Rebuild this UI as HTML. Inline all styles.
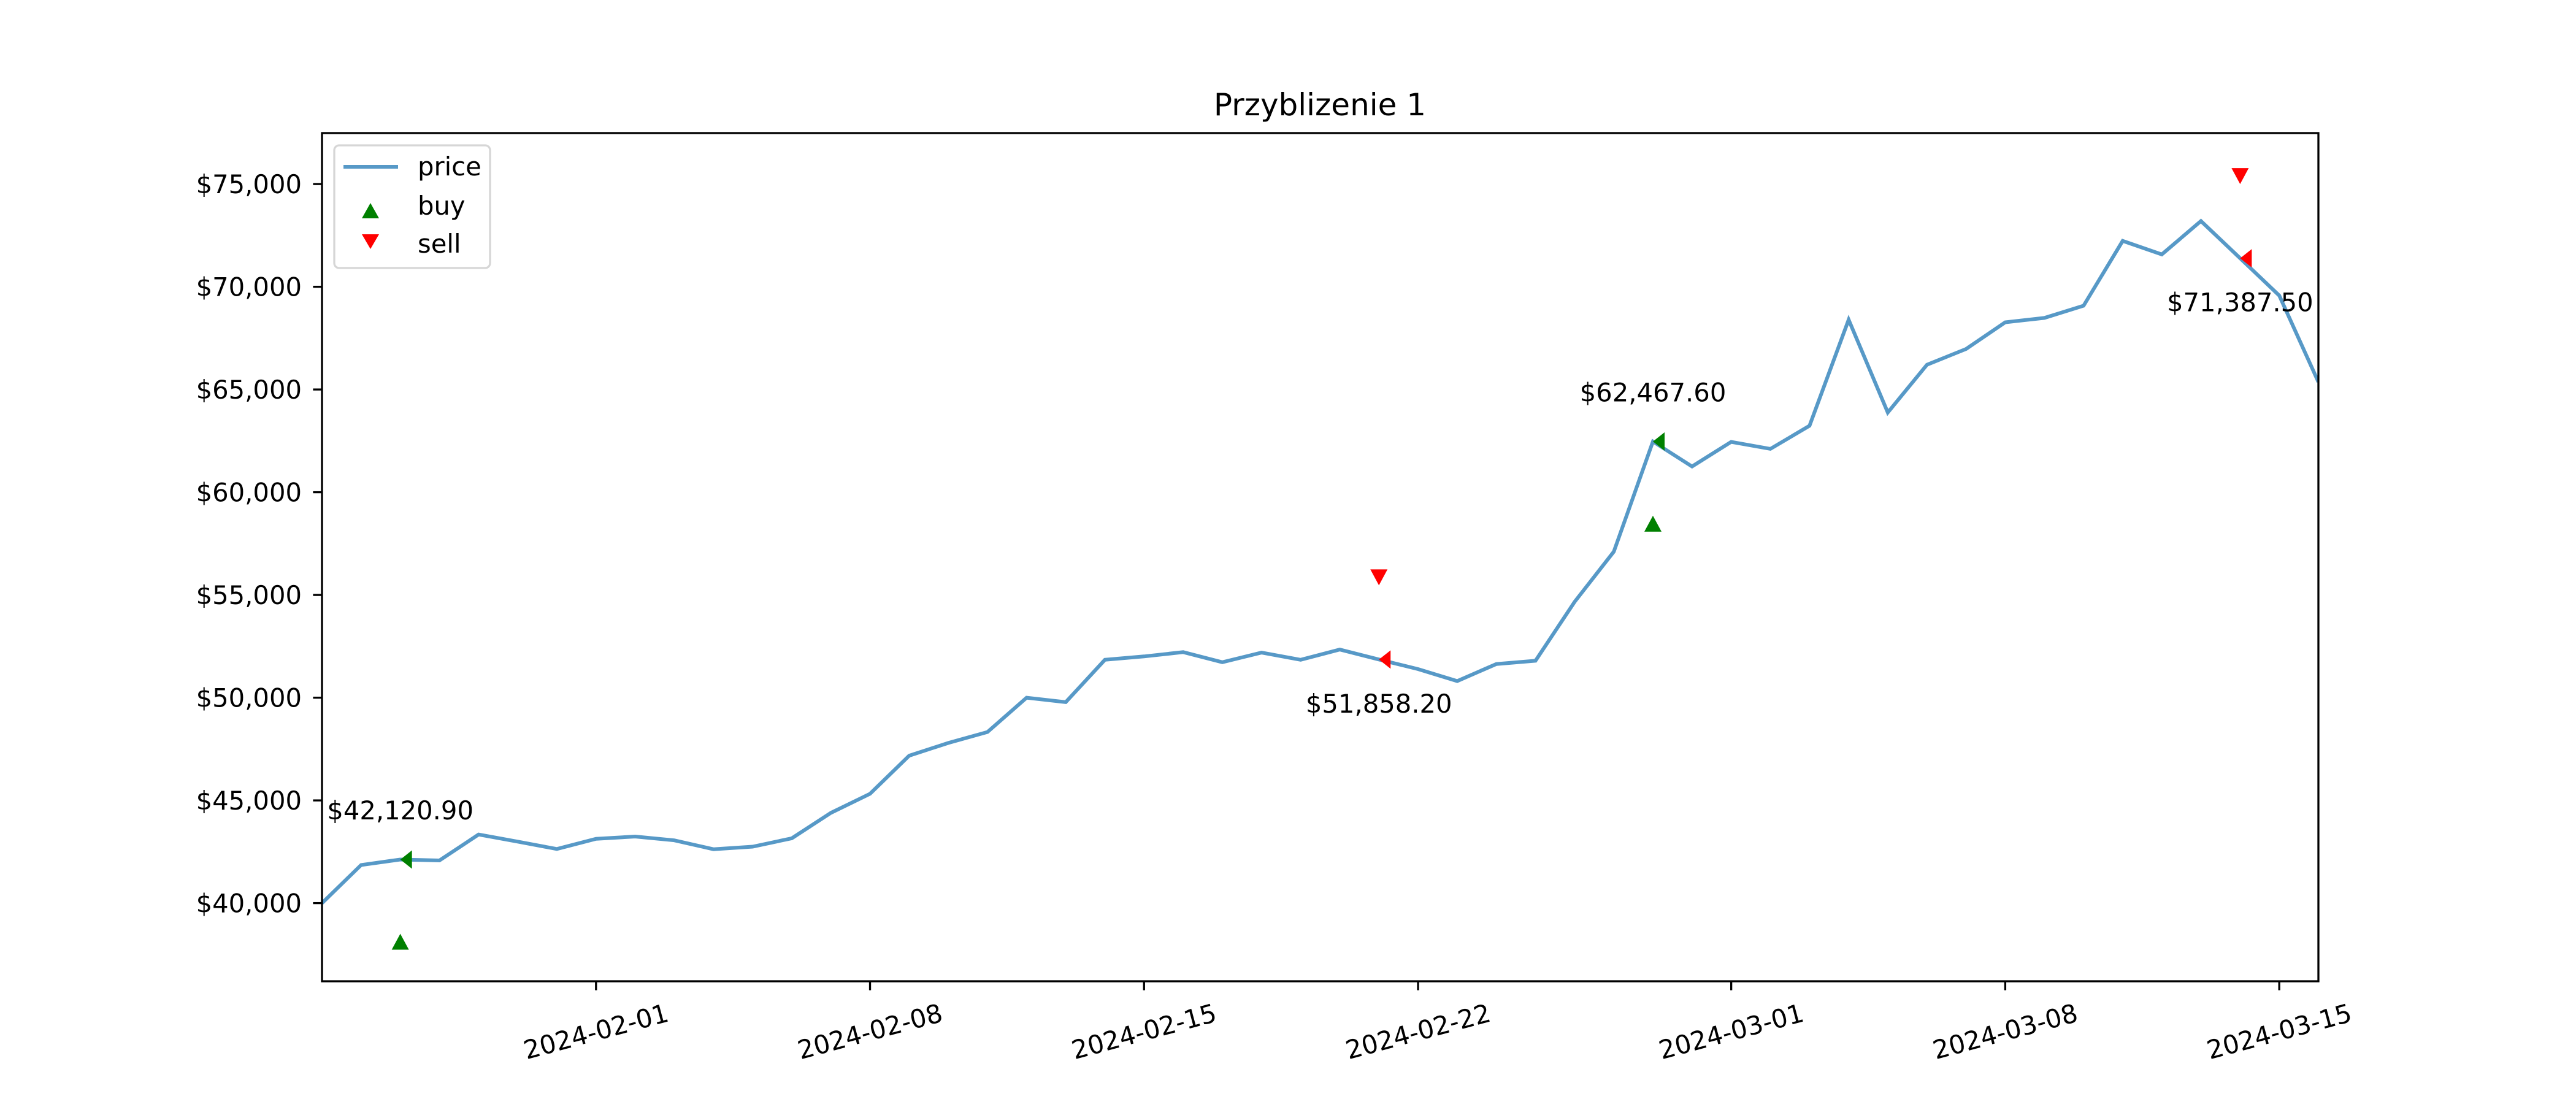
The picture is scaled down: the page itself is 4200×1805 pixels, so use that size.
<!DOCTYPE html>
<html><head><meta charset="utf-8"><style>
html,body{margin:0;padding:0;background:#fff;}
svg text{font-family:"DejaVu Sans","Liberation Sans",sans-serif;fill:#000;}
</style></head><body>
<svg id="chart" width="4200" height="1800" viewBox="0 0 4200 1800" xmlns="http://www.w3.org/2000/svg">
<rect x="0" y="0" width="4200" height="1800" fill="#fff"/>
<text x="2152" y="188" font-size="50" text-anchor="middle">Przyblizenie 1</text>
<g id="plot"></g>
<rect x="525" y="217" width="3255" height="1383" fill="none" stroke="#000" stroke-width="3.3"/>
<g>
<rect x="545" y="237" width="254" height="200" rx="8" fill="#fff" fill-opacity="0.8" stroke="#d6d6d6" stroke-width="3.3"/>
<line x1="560" y1="272" x2="649" y2="272" stroke="#1f77b4" stroke-opacity="0.75" stroke-width="6"/>
<text x="681" y="286" font-size="41.7">price</text>
<polygon points="604,331 590,356 618,356" fill="green"/>
<text x="681" y="350" font-size="41.7">buy</text>
<polygon points="590,382 618,382 604,406" fill="red"/>
<text x="681" y="412" font-size="41.7">sell</text>
</g>
</svg>
<script>
const prices = [40000,41856,42121,42079,43341,42995,42636,
43131,43243,43057,42624,42748,43156,44393,45322,47178,47797,48329,50000,49782,51845,52008,52217,51725,52193,51845,52343,51858,51390,50809,51638,51797,54669,57108,62468,61253,
62450,62110,63235,68397,63880,66205,66972,68271,68483,69077,72232,71575,73199,71388,69572,65364];
const startDate = "2024-01-25";
const buyIdx = [2, 34];
const buyPrices = [42120.90, 62467.60];
const sellIdx = [27, 49];
const sellPrices = [51858.20, 71387.50];
const markerOffset = 4000;
const yTicks = [40000,45000,50000,55000,60000,65000,70000,75000];
const xTickDays = [7,14,21,28,36,43,50];
const xTickLabels = ["2024-02-01","2024-02-08","2024-02-15","2024-02-22","2024-03-01","2024-03-08","2024-03-15"];

const L=525,R=3780,T=217,B=1600;
const dayMin=0, dayMax=51, vMin=36197, vMax=77480;
const xs = d => L + (d-dayMin)/(dayMax-dayMin)*(R-L);
const ys = v => B - (v-vMin)/(vMax-vMin)*(B-T);
const NS="http://www.w3.org/2000/svg";
const svg=document.getElementById('chart');
const g=document.getElementById('plot');
function mk(tag,attrs,parent){const e=document.createElementNS(NS,tag);for(const k in attrs)e.setAttribute(k,attrs[k]);(parent||svg).appendChild(e);return e;}
const fmt = v => "$"+v.toLocaleString("en-US",{minimumFractionDigits:2,maximumFractionDigits:2});
const fmt0 = v => "$"+v.toLocaleString("en-US");

// y ticks
yTicks.forEach(v=>{
  const y=ys(v);
  const t=mk('line',{x1:L-14.6,y1:y,x2:L,y2:y,stroke:'#000','stroke-width':3.3});
  
  
  const tx=mk('text',{x:L-33,y:y+15,'font-size':41.7,'text-anchor':'end'});
  tx.textContent=fmt0(v);
  
  
});
// x ticks
xTickDays.forEach((d,i)=>{
  const x=xs(d);
  const t=mk('line',{x1:x,y1:B,x2:x,y2:B+14.6,stroke:'#000','stroke-width':3.3});
  
  
  const tx=mk('text',{x:0,y:0,'font-size':41.7,'text-anchor':'middle','dominant-baseline':'central',transform:`translate(${x},${B+82}) rotate(-15)`});
  tx.textContent=xTickLabels[i];
  
  
});
// clip
const defs=mk('defs',{});
const cp=mk('clipPath',{id:'clip'},defs);
mk('rect',{x:L,y:T,width:R-L,height:B-T},cp);
const pg=mk('g',{'clip-path':'url(#clip)'},g);
// price line
const pts=prices.map((v,i)=>xs(i).toFixed(1)+','+ys(v).toFixed(1)).join(' ');
const line=mk('polyline',{points:pts,fill:'none',stroke:'#1f77b4','stroke-opacity':0.75,'stroke-width':6,'stroke-linejoin':'miter'},pg);



function tri(x,y,up,color,name){
  const h=13;
  const p= up ? `${x},${y-h} ${x-14},${y+h} ${x+14},${y+h}` : `${x-14},${y-h} ${x+14},${y-h} ${x},${y+h}`;
  const e=mk('polygon',{points:p,fill:color},pg);
  
  
}
function caret(x,y,color,name){
  const e=mk('polygon',{points:`${x},${y} ${x+19},${y-15} ${x+19},${y+15}`,fill:color},pg);
  
  
}
buyIdx.forEach((d,i)=>{
  const x=xs(d);
  tri(x,ys(buyPrices[i]-markerOffset),true,'green','buy-marker');
  caret(x,ys(buyPrices[i]),'green','buy-price-caret');
  const t=mk('text',{x:x,y:ys(buyPrices[i])-80,'font-size':41.7,'text-anchor':'middle','dominant-baseline':'central'});
  t.textContent=fmt(buyPrices[i]);
  
  
});
sellIdx.forEach((d,i)=>{
  const x=xs(d);
  tri(x,ys(sellPrices[i]+markerOffset),false,'red','sell-marker');
  caret(x,ys(sellPrices[i]),'red','sell-price-caret');
  const t=mk('text',{x:x,y:ys(sellPrices[i])+72,'font-size':41.7,'text-anchor':'middle','dominant-baseline':'central'});
  t.textContent=fmt(sellPrices[i]);
  
  
});
</script>
</body></html>
